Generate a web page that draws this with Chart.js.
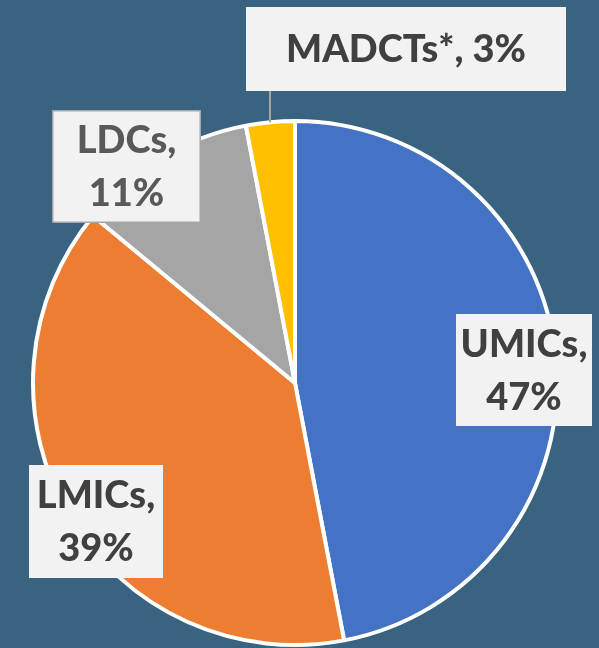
<!DOCTYPE html>
<html>
<head>
<meta charset="utf-8">
<script src="https://cdn.jsdelivr.net/npm/chart.js@4/dist/chart.umd.min.js"></script>
<style>
html,body{margin:0;padding:0;background:#3A6382;}
#wrap{width:599px;height:648px;position:relative;}
</style>
</head>
<body>
<div id="wrap"><canvas id="c" width="599" height="648"></canvas></div>
<script>
const categories = ["UMICs", "LMICs", "LDCs", "MADCTs*"];
const shares = [47, 39, 11, 3];
const sliceColors = ["#4472C4", "#ED7D31", "#A5A5A5", "#FFC000"];

// label box layout (x, y, w, h), whether text wraps after comma, text color, border
const labelBoxes = [
  {x: 456, y: 314, w: 136, h: 112, wrap: true, color: "#404040", border: null},
  {x: 29,  y: 465, w: 134, h: 113, wrap: true, color: "#404040", border: null},
  {x: 52,  y: 110, w: 149, h: 113, wrap: true, color: "#595959", border: "#A6A6A6"},
  {x: 246, y: 7,   w: 320, h: 84,  wrap: false, color: "#404040", border: null, leader: true}
];

const labelPlugin = {
  id: 'labelBoxes',
  afterDatasetsDraw(chart) {
    const ctx = chart.ctx;
    const meta = chart.getDatasetMeta(0);
    ctx.save();
    const fontSize = 38;
    const lineH = 53;
    const capH = fontSize * 0.70;
    ctx.font = `900 ${fontSize}px Lato, "DejaVu Sans", sans-serif`;
    ctx.textAlign = 'center';
    ctx.textBaseline = 'alphabetic';
    categories.forEach((cat, i) => {
      const b = labelBoxes[i];
      if (b.leader) {
        const arc = meta.data[i];
        const lx = b.x + 24;
        const dx = lx - arc.x;
        const py = arc.y - Math.sqrt(Math.max(arc.outerRadius * arc.outerRadius - dx * dx, 0));
        ctx.strokeStyle = "#A6A6A6";
        ctx.lineWidth = 2;
        ctx.beginPath();
        ctx.moveTo(lx, b.y + b.h);
        ctx.lineTo(lx, py);
        ctx.stroke();
      }
      ctx.fillStyle = "#F2F2F2";
      ctx.fillRect(b.x, b.y, b.w, b.h);
      if (b.border) {
        ctx.strokeStyle = b.border;
        ctx.lineWidth = 1.5;
        ctx.strokeRect(b.x + 0.75, b.y + 0.75, b.w - 1.5, b.h - 1.5);
      }
      ctx.fillStyle = b.color;
      const cx = b.x + b.w / 2;
      const cy = b.y + b.h / 2;
      if (b.wrap) {
        ctx.fillText(cat + ",", cx, cy - lineH / 2 + capH / 2);
        ctx.fillText(shares[i] + "%", cx, cy + lineH / 2 + capH / 2);
      } else {
        ctx.fillText(cat + ", " + shares[i] + "%", cx, cy + capH / 2);
      }
    });
    ctx.restore();
  }
};

new Chart(document.getElementById('c'), {
  type: 'pie',
  data: {
    labels: categories,
    datasets: [{
      data: shares,
      backgroundColor: sliceColors,
      borderColor: "#FFFFFF",
      borderWidth: 4,
      borderAlign: 'center'
    }]
  },
  options: {
    responsive: false,
    animation: false,
    radius: 262,
    layout: {padding: {left: 33, right: 42, top: 121, bottom: 3}},
    plugins: {legend: {display: false}, tooltip: {enabled: false}}
  },
  plugins: [labelPlugin]
});
</script>
</body>
</html>
